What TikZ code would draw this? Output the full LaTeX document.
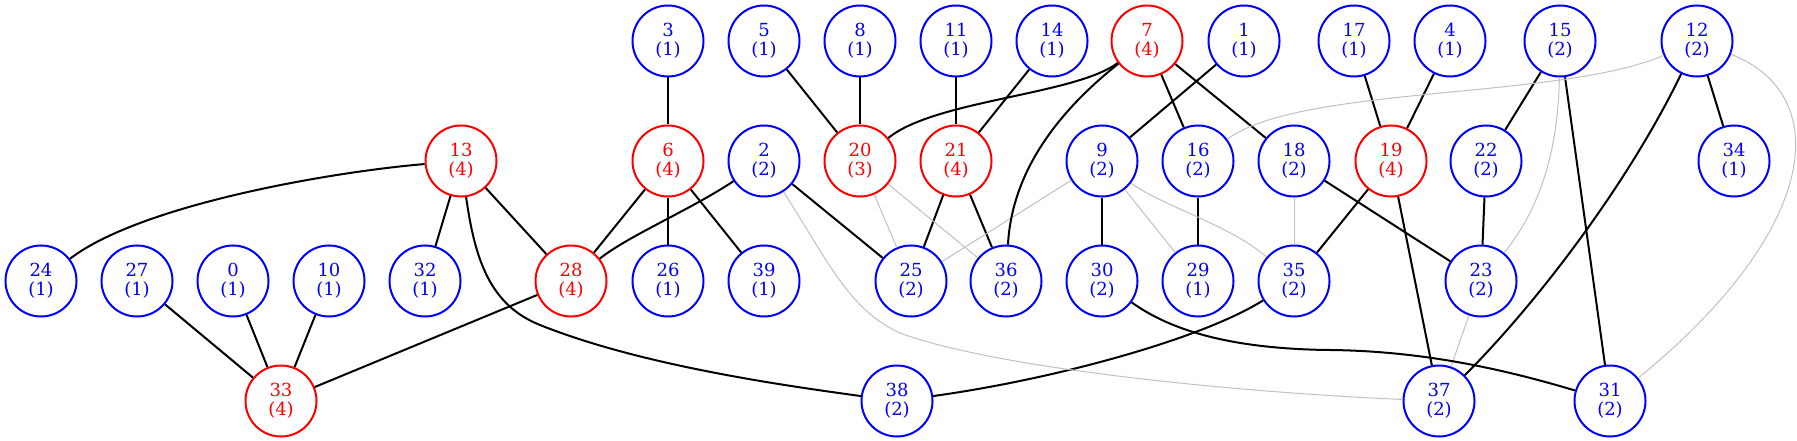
\documentclass[tikz,border=0pt]{standalone}
\usepackage{fontspec}
\setmainfont{DejaVu Serif}
\definecolor{lightedge}{HTML}{C0C0C0}

\begin{document}
\begin{tikzpicture}[x=1pt, y=-1pt,
  vtx/.style={circle, draw=blue, text=blue, line width=2pt, minimum size=71pt, inner sep=0pt, align=center, font=\fontsize{18}{19}\selectfont},
  hot/.style={vtx, draw=red, text=red},
  link/.style={line width=2pt},
  weak/.style={lightedge, line width=1pt}]
\useasboundingbox (0,0) rectangle (1797,441);
\foreach \n/\k/\x/\y in {3/1/668/41, 5/1/764/41, 8/1/860/41, 11/1/956/41, 14/1/1052/41, 1/1/1244/41, 17/1/1354/41, 4/1/1450/41, 15/2/1560/41, 12/2/1697/41,
  2/2/764/161, 9/2/1102/161, 16/2/1198/161, 18/2/1294/161, 22/2/1486/161, 34/1/1734/161,
  24/1/41/281, 27/1/137/281, 0/1/233/281, 10/1/329/281, 32/1/425/281, 26/1/668/281, 39/1/764/281, 25/2/911/281, 36/2/1006/281, 30/2/1102/281, 29/1/1198/281, 35/2/1294/281, 23/2/1481/281,
  38/2/897/401, 37/2/1439/401, 31/2/1610/401}
  \node[vtx] (n\n) at (\x,\y) {\n\\(\k)};
\foreach \n/\k/\x/\y in {7/4/1147/41, 13/4/461/161, 6/4/668/161, 20/3/860/161, 21/4/956/161, 19/4/1391/161, 28/4/571/281, 33/4/281/401}
  \node[hot] (n\n) at (\x,\y) {\n\\(\k)};
\foreach \a/\b in {3/6, 5/20, 8/20, 11/21, 14/21, 7/16, 7/18, 1/9, 17/19, 4/19, 15/22, 15/31, 12/34, 13/32, 13/28, 6/28, 6/26, 6/39, 2/25, 21/25, 21/36, 9/30, 16/29, 18/23, 19/35, 19/37, 22/23, 27/33, 0/33, 10/33, 28/33}
  \draw[link] (n\a) -- (n\b);
\foreach \a/\b in {20/25, 20/36, 9/25, 9/29, 18/35, 23/37}
  \draw[weak] (n\a) -- (n\b);
\draw[link] (n7) .. controls (1075,95) and (935,100) .. (n20);
\draw[link] (n7) .. controls (1060,110) and (1012,170) .. (n36);
\draw[link] (n13) .. controls (330,172) and (140,205) .. (n24);
\draw[link] (n13) .. controls (475,260) and (490,305) .. (540,325) .. controls (640,365) and (780,385) .. (n38);
\draw[link] (n2) .. controls (690,210) and (630,235) .. (n28);
\draw[link] (n30) .. controls (1170,330) and (1230,349) .. (1330,350) .. controls (1420,351) and (1500,368) .. (n31);
\draw[link] (n35) .. controls (1200,340) and (1050,380) .. (n38);
\draw[link] (n12) .. controls (1630,180) and (1540,300) .. (n37);
\draw[weak] (n12) .. controls (1560,100) and (1300,85) .. (n16);
\draw[weak] (n12) .. controls (1835,95) and (1820,230) .. (n31);
\draw[weak] (n15) .. controls (1558,160) and (1535,215) .. (n23);
\draw[weak] (n2) .. controls (830,265) and (850,310) .. (900,333) .. controls (1000,370) and (1250,393) .. (n37);
\draw[weak] (n9) .. controls (1160,205) and (1230,225) .. (n35);
\end{tikzpicture}
\end{document}
